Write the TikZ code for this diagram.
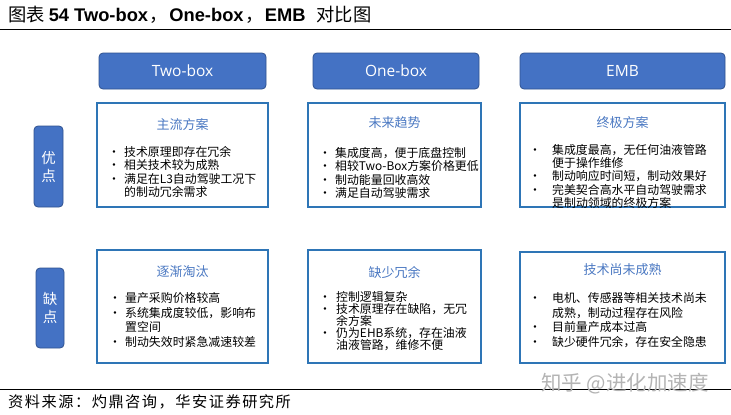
\documentclass[tikz,border=0pt]{standalone}
\usepackage{fontspec}
\setmainfont{Noto Sans CJK SC}
\newfontfamily\latb{Liberation Sans}
\newfontfamily\hdrfont{Open Sans}
\newfontfamily\srcfont[LetterSpace=10]{Noto Sans CJK SC}
\definecolor{hdrblue}{HTML}{4472C4}
\definecolor{hdredge}{HTML}{2F528F}
\definecolor{boxedge}{HTML}{2E75B6}
\definecolor{ttlblue}{HTML}{4A78C2}
\definecolor{wmgray}{HTML}{B4B4B4}
\newcommand\bitem[2]{\makebox[#1][l]{•}#2}
\newcommand\bcont[2]{\hspace*{#1}#2}
\tikzset{
  hdrbox/.style={draw=hdredge, line width=0.8pt, fill=hdrblue, rounded corners=4pt},
  hdrtext/.style={text=white, font=\hdrfont\fontsize{15.5}{18}\selectfont},
  sidebox/.style={draw=hdredge, line width=0.8pt, fill=hdrblue, rounded corners=4pt},
  sidetext/.style={text=white, align=center, font=\fontsize{14.5}{18}\selectfont},
  contbox/.style={draw=boxedge, line width=1.7pt, fill=white},
  boxtitle/.style={text=ttlblue, font=\fontsize{13}{15}\selectfont, inner sep=0pt},
  lt/.style={inner sep=0pt, anchor=base west, font=\fontsize{11.9}{13}\selectfont},
}
\begin{document}
\begin{tikzpicture}[x=1pt,y=-1pt]
\useasboundingbox (0,0) rectangle (731,415);
\fill[white] (0,0) rectangle (731,415);
% title
\node[anchor=west, inner sep=0pt, font=\fontsize{18.3}{21}\selectfont] (title) at (8,15)
  {图表\hspace{4pt}{\latb\bfseries 54 Two-box}\hspace{1.5pt}，\hspace{1.5pt}{\latb\bfseries One-box}\hspace{1.5pt}，\hspace{1.5pt}{\latb\bfseries EMB}\hspace{11pt}对比图};
\coordinate (tl0) at (0,29); \coordinate (tl1) at (731,29);
\draw[line width=1pt] (tl0) -- (tl1);
% headers
\draw[hdrbox] (99,53) rectangle (266,89);
\node[hdrtext] (h1) at (182.5,71) {Two-box};
\draw[hdrbox] (313,53) rectangle (479,89);
\node[hdrtext] (h2) at (396,71) {One-box};
\draw[hdrbox] (520,53) rectangle (725,89);
\node[hdrtext] (h3) at (622.5,71) {EMB};
% side labels
\draw[sidebox] (34,126) rectangle (63,207);
\node[sidetext] (s1) at (48.5,166.5) {优\\点};
\draw[sidebox] (36,268) rectangle (64,348);
\node[sidetext] (s2) at (50,308) {缺\\点};
% ---- top row ----
\draw[contbox] (97,103) rectangle (268,207);
\node[boxtitle] (t1) at (182.5,125) {主流方案};
\node[lt] (l1a) at (108,156.4) {\bitem{16pt}{技术原理即存在冗余}};
\node[lt] (l1b) at (108,169.9) {\bitem{16pt}{相关技术较为成熟}};
\node[lt] (l1c) at (108,183.4) {\bitem{16pt}{满足在L3自动驾驶工况下}};
\node[lt] (l1d) at (108,196.9) {\bcont{16pt}{的制动冗余需求}};

\draw[contbox] (308,103) rectangle (481,207);
\node[boxtitle] (t2) at (394.5,123) {未来趋势};
\node[lt] (l2a) at (319,157.4) {\bitem{16pt}{集成度高，便于底盘控制}};
\node[lt] (l2b) at (319,170.9) {\bitem{16pt}{相较Two-Box方案价格更低}};
\node[lt] (l2c) at (319,184.4) {\bitem{16pt}{制动能量回收高效}};
\node[lt] (l2d) at (319,197.9) {\bitem{16pt}{满足自动驾驶需求}};

\draw[contbox] (520,103) rectangle (725,207);
\node[boxtitle] (t3) at (622.5,123) {终极方案};
\node[lt] (l3a) at (529,154.4) {\bitem{23pt}{集成度最高，无任何油液管路}};
\node[lt] (l3b) at (529,167.7) {\bcont{23pt}{便于操作维修}};
\node[lt] (l3c) at (529,180.9) {\bitem{23pt}{制动响应时间短，制动效果好}};
\node[lt] (l3d) at (529,194.2) {\bitem{23pt}{完美契合高水平自动驾驶需求}};
\node[lt] (l3e) at (529,207.4) {\bcont{23pt}{是制动领域的终极方案}};
% ---- bottom row ----
\draw[contbox] (97,250) rectangle (268,363);
\node[boxtitle] (t4) at (182.5,272) {逐渐淘汰};
\node[lt] (l4a) at (109,302.4) {\bitem{16pt}{量产采购价格较高}};
\node[lt] (l4b) at (109,317.1) {\bitem{16pt}{系统集成度较低，影响布}};
\node[lt] (l4c) at (109,331.7) {\bcont{16pt}{置空间}};
\node[lt] (l4d) at (109,346.4) {\bitem{16pt}{制动失效时紧急减速较差}};

\draw[contbox] (308,250) rectangle (481,363);
\node[boxtitle] (t5) at (394.5,272) {缺少冗余};
\node[lt] (l5a) at (319,301.4) {\bitem{17pt}{控制逻辑复杂}};
\node[lt] (l5b) at (319,313.4) {\bitem{17pt}{技术原理存在缺陷，无冗}};
\node[lt] (l5c) at (319,325.4) {\bcont{17pt}{余方案}};
\node[lt] (l5d) at (319,337.4) {\bitem{17pt}{仍为EHB系统，存在油液}};
\node[lt] (l5e) at (319,349.4) {\bcont{17pt}{油液管路，维修不便}};

\draw[contbox] (520,252) rectangle (725,363);
\node[boxtitle] (t6) at (622.5,270) {技术尚未成熟};
\node[lt] (l6a) at (529,302.4) {\bitem{23pt}{电机、传感器等相关技术尚未}};
\node[lt] (l6b) at (529,317.1) {\bcont{23pt}{成熟，制动过程存在风险}};
\node[lt] (l6c) at (529,331.7) {\bitem{23pt}{目前量产成本过高}};
\node[lt] (l6d) at (529,346.4) {\bitem{23pt}{缺少硬件冗余，存在安全隐患}};
% bottom
\coordinate (bl0) at (0,389); \coordinate (bl1) at (731,389);
\draw[line width=1pt] (bl0) -- (bl1);
\node[text=wmgray, font=\fontsize{20.5}{22}\selectfont, inner sep=0pt] (wm) at (625,384) {知乎 @进化加速度};
\node[anchor=west, inner sep=0pt, font=\srcfont\fontsize{15.2}{18}\selectfont] (src) at (8,402) {资料来源：灼鼎咨询，华安证券研究所};
\end{tikzpicture}
\end{document}
